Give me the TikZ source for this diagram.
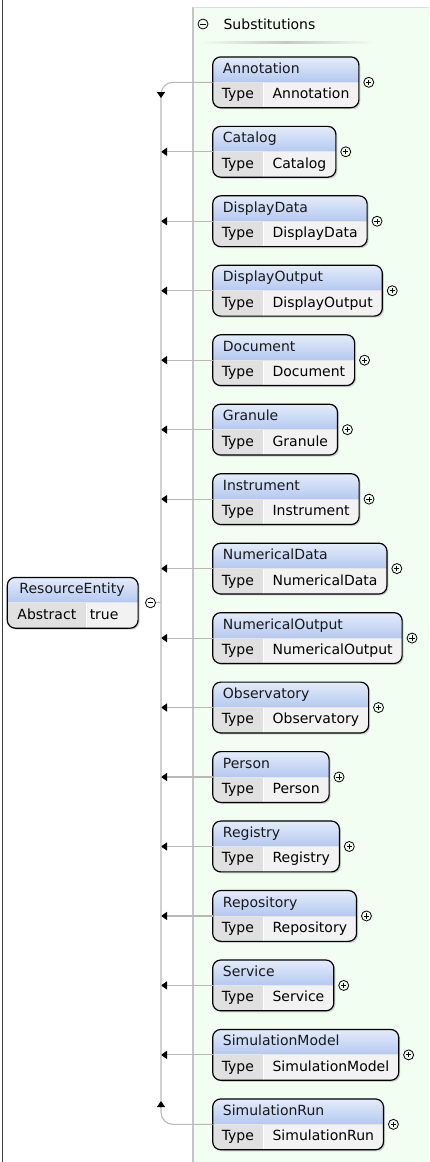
\documentclass[tikz,border=0pt]{standalone}
\usepackage{fontspec}
\setmainfont{DejaVu Sans}
\usetikzlibrary{positioning, arrows.meta, shadows, backgrounds}

\definecolor{panelgreen}{RGB}{241,254,241}
\definecolor{panelline}{RGB}{196,196,196}
\definecolor{hdrtop}{RGB}{228,236,250}
\definecolor{hdrbot}{RGB}{180,200,240}
\definecolor{typegray}{RGB}{224,224,224}
\definecolor{valgray}{RGB}{242,242,242}
\definecolor{conngray}{RGB}{184,184,184}

\tikzset{
  cellfont/.style={font=\fontsize{14}{16}\selectfont},
  cell/.style={cellfont, inner xsep=9pt, inner ysep=0pt, minimum height=25pt, text height=10.5pt, text depth=3pt},
  typecell/.style={cell, minimum width=50pt, inner xsep=0pt, anchor=north west},
  valcell/.style={cell, inner xsep=9.3pt},
  hdrcell/.style={cell, inner xsep=10pt, text=black!90},
  boxedge/.style={draw=black, line width=1.2pt, rounded corners=8pt},
  boxshadow/.style={rounded corners=8pt, drop shadow={shadow xshift=1.5pt, shadow yshift=-1.5pt, opacity=.35}},
  conn/.style={draw=conngray, line width=1.1pt},
  conntip/.style={conn, -{Triangle[length=6pt, width=8pt, color=black]}},
  togglecirc/.style={circle, draw=black, line width=.8pt, minimum size=10pt, inner sep=0pt},
  plussign/.style={togglecirc, path picture={\draw[line width=.8pt, shift={(path picture bounding box.center)}] (-2.6pt,0) -- (2.6pt,0) (0,-2.6pt) -- (0,2.6pt);}},
  minussign/.style={togglecirc, path picture={\draw[line width=.8pt, shift={(path picture bounding box.center)}] (-2.6pt,0) -- (2.6pt,0);}},
}

% frame of one element box: type cell, value cell, header
\newcommand{\drawentity}[3]{%
  \begin{scope}[on background layer]
    \path[boxshadow] (#1.west |- #3.north) rectangle (#2.south east);
    \begin{scope}
      \clip[rounded corners=8pt] (#1.west |- #3.north) rectangle (#2.south east);
      \shade[top color=hdrtop, bottom color=hdrbot] (#1.west |- #3.north) rectangle (#2.north east);
      \fill[typegray] (#1.north west) rectangle (#1.south east);
      \fill[valgray] (#2.north west) rectangle (#2.south east);
      \draw[white, line width=1pt] (#1.north east) -- (#1.south east);
      \draw[white!80!gray, line width=.8pt] (#1.north west) -- (#2.north east);
    \end{scope}
  \end{scope}
  \draw[boxedge] (#1.west |- #3.north) rectangle (#2.south east);
}

\begin{document}
\begin{tikzpicture}[x=1pt,y=-1pt]
\useasboundingbox (0,0) rectangle (429,1162);

% substitution panel
\begin{scope}[on background layer]
\fill[panelgreen] (193,7) rectangle (429,1162);
\end{scope}
\draw[panelline, line width=1.6pt] (193,1162) -- (193,7);
\draw[panelline!60, line width=1pt] (193,7) -- (429,7);
\draw[black!75, line width=1pt] (2.5,0) -- (2.5,1162);

\node[minussign] (subm) at (203,24) {};
\node[cellfont, inner sep=0pt, right=15pt of subm] (subt) {Substitutions};
\shade[left color=panelgreen, right color=panelgreen, middle color=black!22] (200,41) rectangle (373,43);

% members
\foreach \nm [count=\i from 0] in {Annotation,Catalog,DisplayData,DisplayOutput,Document,Granule,Instrument,NumericalData,NumericalOutput,Observatory,Person,Registry,Repository,Service,SimulationModel,SimulationRun}{
  \pgfmathsetmacro\rowy{82.3+69.47*\i}
  \node[typecell] (t\i) at (212.7,\rowy) {Type};
  \node[valcell, right=0pt of t\i] (v\i) {\nm};
  \node[hdrcell, above right=0pt and 0pt of t\i.north west] (h\i) {\nm};
  \drawentity{t\i}{v\i}{h\i}
  \node[plussign, right=4.5pt of v\i.north east] (p\i) {};
  \coordinate (b\i) at (161,\rowy);
}

% bus
\foreach \i in {1,...,14}
  \draw[conntip] (t\i.north west) -- (b\i);
\draw[conn, rounded corners=12pt] (t0.north west) -- (b0) -- (b15) -- (t15.north west);
\coordinate (tipTopA) at (161,92);
\coordinate (tipTopB) at (161,98);
\draw[conntip] (tipTopA) -- (tipTopB);
\coordinate (tipBotA) at (161,1107);
\coordinate (tipBotB) at (161,1101);
\draw[conntip] (tipBotA) -- (tipBotB);

% head element
\node[typecell, minimum width=78.7pt] (ra) at (7.3,602.8) {Abstract};
\node[valcell, right=0pt of ra, minimum width=51.3pt, text width=45pt, inner xsep=3pt, align=left] (rv) {true};
\node[hdrcell, inner xsep=12pt, above right=0pt and 0pt of ra.north west] (rh) {ResourceEntity};
\drawentity{ra}{rv}{rh}
\node[minussign, right=7pt of rv.north east] (rm) {};
\coordinate (broot) at (161,602.8);
\draw[conn] (rm) -- (broot);
\end{tikzpicture}
\end{document}
